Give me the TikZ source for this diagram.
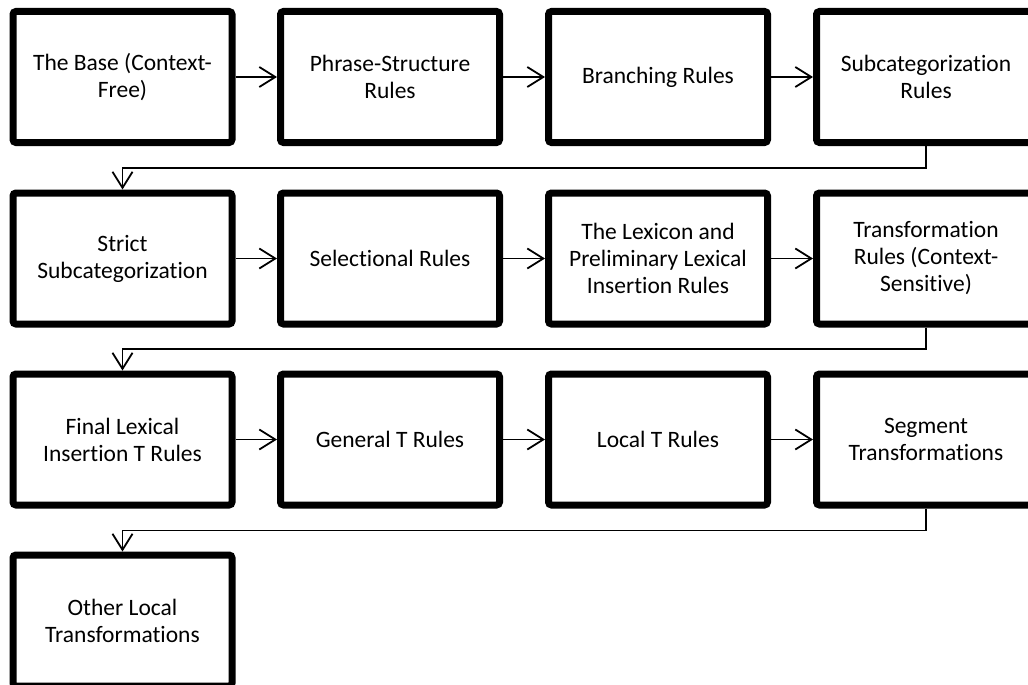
\documentclass[tikz,border=0pt]{standalone}
\usepackage{fontspec}
\setmainfont{Carlito}[Ligatures=NoCommon]
\usetikzlibrary{arrows.meta,shadows}
\begin{document}
\begin{tikzpicture}[x=1pt,y=-1pt,
  stepbox/.style={draw=black, line width=7pt, rounded corners=3pt, fill=white,
    minimum width=219pt, minimum height=131pt, align=center, inner sep=0pt,
    font=\fontsize{23.5}{27}\selectfont,
    drop shadow={opacity=0.22, shadow xshift=2pt, shadow yshift=-3pt}},
  conn/.style={line width=1.8pt, -{Straight Barb[length=16pt,width=20pt,line width=1.8pt]}}
]
\useasboundingbox (0,0) rectangle (1028,685);
\clip (0,0) rectangle (1028,685);
% row 1
\node[stepbox] (a1) at (122.5,77) {The Base (Context-\\Free)};
\node[stepbox] (a2) at (390,77) {Phrase-Structure\\Rules};
\node[stepbox] (a3) at (658,77) {Branching Rules};
\node[stepbox] (a4) at (926,77) {Subcategorization\\Rules};
% row 2
\node[stepbox] (b1) at (122.5,258.5) {Strict\\Subcategorization};
\node[stepbox] (b2) at (390,258.5) {Selectional Rules};
\node[stepbox] (b3) at (658,258.5) {The Lexicon and\\Preliminary Lexical\\Insertion Rules};
\node[stepbox] (b4) at (926,258.5) {Transformation\\Rules (Context-\\Sensitive)};
% row 3
\node[stepbox] (c1) at (122.5,439.5) {Final Lexical\\Insertion T Rules};
\node[stepbox] (c2) at (390,439.5) {General T Rules};
\node[stepbox] (c3) at (658,439.5) {Local T Rules};
\node[stepbox] (c4) at (926,439.5) {Segment\\Transformations};
% row 4
\node[stepbox] (d1) at (122.5,620.5) {Other Local\\Transformations};
% connectors
\draw[conn] (a1.east) -- (a2.west);
\draw[conn] (a2.east) -- (a3.west);
\draw[conn] (a3.east) -- (a4.west);
\draw[conn] (a4.south) -- ++(0,22) -| (b1.north);
\draw[conn] (b1.east) -- (b2.west);
\draw[conn] (b2.east) -- (b3.west);
\draw[conn] (b3.east) -- (b4.west);
\draw[conn] (b4.south) -- ++(0,21.5) -| (c1.north);
\draw[conn] (c1.east) -- (c2.west);
\draw[conn] (c2.east) -- (c3.west);
\draw[conn] (c3.east) -- (c4.west);
\draw[conn] (c4.south) -- ++(0,22) -| (d1.north);
\end{tikzpicture}
\end{document}
